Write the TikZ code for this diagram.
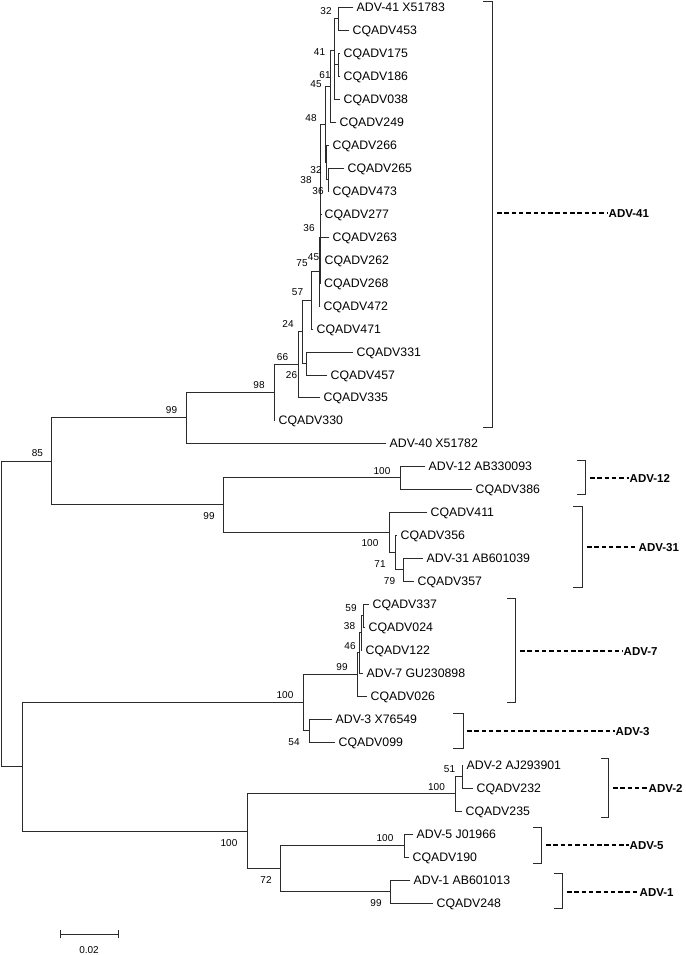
\documentclass[tikz,border=0pt]{standalone}
\usepackage{fontspec}
\setmainfont{Liberation Sans}
\usetikzlibrary{positioning, calc}
\definecolor{treeink}{HTML}{2B2B2B}

\begin{document}
\begin{tikzpicture}[x=1pt, y=-1pt,
    branch/.style={draw=treeink, line width=0.9pt, line cap=rect},
    leaf/.style={anchor=west, inner xsep=3.5pt, inner ysep=0pt,
                 text height=8.8pt, text depth=0pt,
                 font=\fontsize{12.3}{14}\selectfont},
    bs/.style={inner sep=0pt, text height=7.2pt, text depth=0pt,
               font=\fontsize{10}{12}\selectfont},
    bracket/.style={draw=treeink, line width=0.9pt},
    dashline/.style={draw=black, line width=1.1pt, dash pattern=on 4.5pt off 2.8pt},
    clade/.style={anchor=west, inner xsep=0.5pt, inner ysep=0pt,
                  text height=8.3pt, text depth=0pt,
                  font=\fontsize{11.5}{14}\selectfont\bfseries},
  ]
  \useasboundingbox (0,0) rectangle (685,955);

  % leaves
  \node[leaf] (l0)  at (353,7)   {ADV-41 X51783};
  \node[leaf] (l1)  at (349,30)  {CQADV453};
  \node[leaf] (l2)  at (340,53)  {CQADV175};
  \node[leaf] (l3)  at (340,76)  {CQADV186};
  \node[leaf] (l4)  at (340,99)  {CQADV038};
  \node[leaf] (l5)  at (336,122) {CQADV249};
  \node[leaf] (l6)  at (329,145) {CQADV266};
  \node[leaf] (l7)  at (344,168) {CQADV265};
  \node[leaf] (l8)  at (329,191) {CQADV473};
  \node[leaf] (l9)  at (321,214) {CQADV277};
  \node[leaf] (l10) at (329,237) {CQADV263};
  \node[leaf] (l11) at (321,260) {CQADV262};
  \node[leaf] (l12) at (320.5,283) {CQADV268};
  \node[leaf] (l13) at (320,306) {CQADV472};
  \node[leaf] (l14) at (313,329) {CQADV471};
  \node[leaf] (l15) at (353,352) {CQADV331};
  \node[leaf] (l16) at (327,375) {CQADV457};
  \node[leaf] (l17) at (320,397) {CQADV335};
  \node[leaf] (l18) at (275,420) {CQADV330};
  \node[leaf] (l19) at (386,443) {ADV-40 X51782};
  \node[leaf] (l20) at (425,466) {ADV-12 AB330093};
  \node[leaf] (l21) at (472,489) {CQADV386};
  \node[leaf] (l22) at (427,512) {CQADV411};
  \node[leaf] (l23) at (397,535) {CQADV356};
  \node[leaf] (l24) at (423,558) {ADV-31 AB601039};
  \node[leaf] (l25) at (414,581) {CQADV357};
  \node[leaf] (l26) at (369,604) {CQADV337};
  \node[leaf] (l27) at (365,627) {CQADV024};
  \node[leaf] (l28) at (362,650) {CQADV122};
  \node[leaf] (l29) at (363,673) {ADV-7 GU230898};
  \node[leaf] (l30) at (367,696) {CQADV026};
  \node[leaf] (l31) at (332,719) {ADV-3 X76549};
  \node[leaf] (l32) at (335,742) {CQADV099};
  \node[leaf] (l33) at (463,765) {ADV-2 AJ293901};
  \node[leaf] (l34) at (473,788) {CQADV232};
  \node[leaf] (l35) at (462,811) {CQADV235};
  \node[leaf] (l36) at (413,834) {ADV-5 J01966};
  \node[leaf] (l37) at (409,857) {CQADV190};
  \node[leaf] (l38) at (410,880) {ADV-1 AB601013};
  \node[leaf] (l39) at (433,903) {CQADV248};

  % internal nodes
  \coordinate (n32)   at (338,18.5);
  \coordinate (n61b)  at (338,64.5);
  \coordinate (n61)   at (334,81.75);
  \coordinate (n41)   at (334,50.1);
  \coordinate (n45)   at (330,86.05);
  \coordinate (n32b)  at (328,179.5);
  \coordinate (n38)   at (326,162.25);
  \coordinate (n48)   at (325,124.15);
  \coordinate (t1)    at (320.5,169.1);
  \coordinate (t2)    at (320.5,203);
  \coordinate (t3)    at (320,271.5);
  \coordinate (t4)    at (320,237.3);
  \coordinate (j75)   at (319,271.6);
  \coordinate (h57)   at (311,300.3);
  \coordinate (i26)   at (306,363.5);
  \coordinate (g24)   at (302,331.9);
  \coordinate (f66)   at (298,364.5);
  \coordinate (e98)   at (274,392.2);
  \coordinate (c99)   at (186,417.6);
  \coordinate (m100)  at (400,477.5);
  \coordinate (p79)   at (403,569.5);
  \coordinate (o71)   at (395,552.3);
  \coordinate (n100)  at (389,532.1);
  \coordinate (d99)   at (223,504.8);
  \coordinate (a85)   at (51,461.2);
  \coordinate (t59)   at (363,615.5);
  \coordinate (s38)   at (361,632.8);
  \coordinate (r46)   at (359,652.9);
  \coordinate (q99)   at (357,674.4);
  \coordinate (v54)   at (309,730.5);
  \coordinate (u100)  at (303,702.5);
  \coordinate (z51)   at (462,776.5);
  \coordinate (x100)  at (455,793.8);
  \coordinate (aa100) at (404,845.5);
  \coordinate (bb99)  at (390,891.5);
  \coordinate (y72)   at (280,868.5);
  \coordinate (w100)  at (247,831.1);
  \coordinate (b0)    at (22,766.8);
  \coordinate (root)  at (1,614);

  % branches
  \draw[branch] (n32) |- (l0.west) (n32) |- (l1.west);
  \draw[branch] (n61b) |- (l2.west) (n61b) |- (l3.west);
  \draw[branch] (n61) |- (n61b) (n61) |- (l4.west);
  \draw[branch] (n41) |- (n32) (n41) |- (n61);
  \draw[branch] (n45) |- (n41) (n45) |- (l5.west);
  \draw[branch] (n32b) |- (l7.west) (n32b) |- (l8.west);
  \draw[branch] (n38) |- (l6.west) (n38) |- (n32b);
  \draw[branch] (n48) |- (n45) (n48) |- (n38);
  \draw[branch] (t1) |- (n48) (t1) |- (l9.west);
  \draw[branch] (t2) |- (t1) (t2) |- (l10.west);
  \draw[branch] (t3) |- (l11.west) (t3) |- (l12.west);
  \draw[branch] (t4) |- (t2) (t4) |- (t3);
  \draw[branch] (j75) |- (t4) (j75) |- (l13.west);
  \draw[branch] (h57) |- (j75) (h57) |- (l14.west);
  \draw[branch] (i26) |- (l15.west) (i26) |- (l16.west);
  \draw[branch] (g24) |- (h57) (g24) |- (i26);
  \draw[branch] (f66) |- (g24) (f66) |- (l17.west);
  \draw[branch] (e98) |- (f66) (e98) |- (l18.west);
  \draw[branch] (c99) |- (e98) (c99) |- (l19.west);
  \draw[branch] (m100) |- (l20.west) (m100) |- (l21.west);
  \draw[branch] (p79) |- (l24.west) (p79) |- (l25.west);
  \draw[branch] (o71) |- (l23.west) (o71) |- (p79);
  \draw[branch] (n100) |- (l22.west) (n100) |- (o71);
  \draw[branch] (d99) |- (m100) (d99) |- (n100);
  \draw[branch] (a85) |- (c99) (a85) |- (d99);
  \draw[branch] (t59) |- (l26.west) (t59) |- (l27.west);
  \draw[branch] (s38) |- (t59) (s38) |- (l28.west);
  \draw[branch] (r46) |- (s38) (r46) |- (l29.west);
  \draw[branch] (q99) |- (r46) (q99) |- (l30.west);
  \draw[branch] (v54) |- (l31.west) (v54) |- (l32.west);
  \draw[branch] (u100) |- (q99) (u100) |- (v54);
  \draw[branch] (z51) |- (l33.west) (z51) |- (l34.west);
  \draw[branch] (x100) |- (z51) (x100) |- (l35.west);
  \draw[branch] (aa100) |- (l36.west) (aa100) |- (l37.west);
  \draw[branch] (bb99) |- (l38.west) (bb99) |- (l39.west);
  \draw[branch] (y72) |- (aa100) (y72) |- (bb99);
  \draw[branch] (w100) |- (x100) (w100) |- (y72);
  \draw[branch] (b0) |- (u100) (b0) |- (w100);
  \draw[branch] (root) |- (a85) (root) |- (b0);

  % bootstrap values
  \node[bs] (v32)   at (326,11)    {32};
  \node[bs] (v41)   at (319.5,52)  {41};
  \node[bs] (v61)   at (325,75)    {61};
  \node[bs] (v45)   at (316,84)    {45};
  \node[bs] (v48)   at (311,118)   {48};
  \node[bs] (v32b)  at (316,170)   {32};
  \node[bs] (v38)   at (306,180)   {38};
  \node[bs] (v36)   at (318,191)   {36};
  \node[bs] (v36b)  at (309,228)   {36};
  \node[bs] (v75)   at (302,263)   {75};
  \node[bs] (v45b)  at (313.5,257) {45};
  \node[bs] (v57)   at (297.5,292) {57};
  \node[bs] (v24)   at (288,324)   {24};
  \node[bs] (v66)   at (282.5,357) {66};
  \node[bs] (v26)   at (291.5,375) {26};
  \node[bs] (v98)   at (259,385)   {98};
  \node[bs] (v99a)  at (171.5,410) {99};
  \node[bs] (v85)   at (37.5,453)  {85};
  \node[bs] (v100a) at (382,471)   {100};
  \node[bs] (v99b)  at (209,516)   {99};
  \node[bs] (v100b) at (370,543)   {100};
  \node[bs] (v71)   at (380,564)   {71};
  \node[bs] (v79)   at (389.5,581) {79};
  \node[bs] (v59)   at (351,608)   {59};
  \node[bs] (v38b)  at (349.5,626) {38};
  \node[bs] (v46)   at (350,646)   {46};
  \node[bs] (v99c)  at (342,667)   {99};
  \node[bs] (v100c) at (285,695)   {100};
  \node[bs] (v54)   at (294,742)   {54};
  \node[bs] (v51)   at (449.5,769) {51};
  \node[bs] (v100d) at (436.5,787) {100};
  \node[bs] (v100e) at (229,843)   {100};
  \node[bs] (v100f) at (385,838)   {100};
  \node[bs] (v72)   at (266,880)   {72};
  \node[bs] (v99d)  at (376,903)   {99};

  % clade brackets
  \draw[bracket] (483,1) -- (492,1) -- (492,427) -- (483,427);
  \draw[bracket] (577,460) -- (585,460) -- (585,494) -- (577,494);
  \draw[bracket] (573,506) -- (582,506) -- (582,587) -- (573,587);
  \draw[bracket] (507,598) -- (515,598) -- (515,702) -- (507,702);
  \draw[bracket] (453,713) -- (463,713) -- (463,748) -- (453,748);
  \draw[bracket] (601,758) -- (608,758) -- (608,817) -- (601,817);
  \draw[bracket] (533,827) -- (541,827) -- (541,863) -- (533,863);
  \draw[bracket] (554,873) -- (562,873) -- (562,908) -- (554,908);

  \coordinate (k41) at (497,213);
  \coordinate (k12) at (590,478);
  \coordinate (k31) at (587,547);
  \coordinate (k7)  at (520,651);
  \coordinate (k3)  at (467,731);
  \coordinate (k2)  at (613,788);
  \coordinate (k5)  at (546,845);
  \coordinate (k1)  at (567,892);

  \node[clade] (g41) at (608,213) {ADV-41};
  \node[clade] (g12) at (629,478) {ADV-12};
  \node[clade] (g31) at (638,547) {ADV-31};
  \node[clade] (g7)  at (623,651) {ADV-7};
  \node[clade] (g3)  at (615,731) {ADV-3};
  \node[clade] (g2)  at (648,788) {ADV-2};
  \node[clade] (g5)  at (629,845) {ADV-5};
  \node[clade] (g1)  at (639,892) {ADV-1};

  \draw[dashline] (k41) -- (g41.west);
  \draw[dashline] (k12) -- (g12.west);
  \draw[dashline] (k31) -- (g31.west);
  \draw[dashline] (k7)  -- (g7.west);
  \draw[dashline] (k3)  -- (g3.west);
  \draw[dashline] (k2)  -- (g2.west);
  \draw[dashline] (k5)  -- (g5.west);
  \draw[dashline] (k1)  -- (g1.west);

  % scale bar
  \coordinate (s0) at (60,934);
  \coordinate (s1) at (118,934);
  \draw[branch] (s0) -- (s1);
  \draw[branch] ($(s0)+(0,-4)$) -- ($(s0)+(0,4)$);
  \draw[branch] ($(s1)+(0,-4)$) -- ($(s1)+(0,4)$);
  \node[bs] (sc) at (89,950) {0.02};
\end{tikzpicture}
\end{document}
